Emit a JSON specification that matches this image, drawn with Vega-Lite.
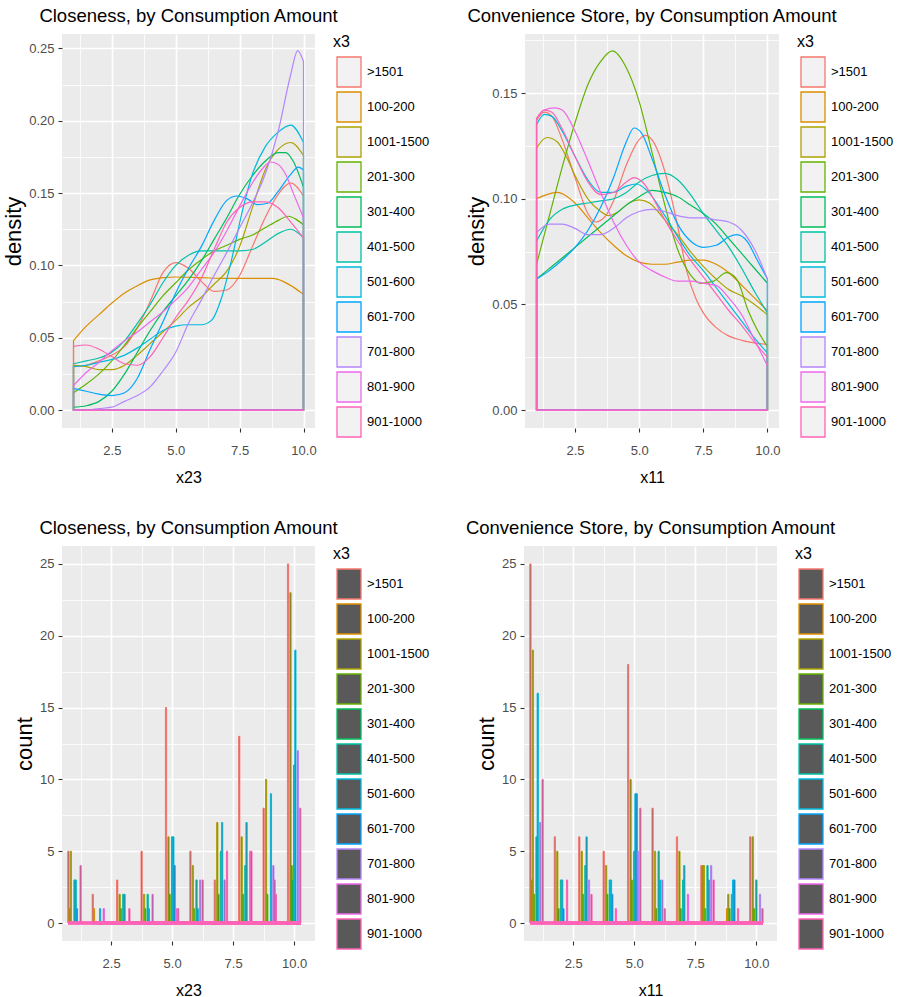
{
 "$schema": "https://vega.github.io/schema/vega-lite/v6.json",
 "background": "white",
 "padding": {"left": 2, "top": 6, "right": 0, "bottom": 0},
 "datasets": {
  "dens23": [
   {"x3":">1501","x23":1,"density":0.030},{"x3":">1501","x23":1.5,"density":0.031},{"x3":">1501","x23":2,"density":0.034},{"x3":">1501","x23":2.5,"density":0.038},{"x3":">1501","x23":3,"density":0.044},{"x3":">1501","x23":3.5,"density":0.057},{"x3":">1501","x23":4,"density":0.075},{"x3":">1501","x23":4.5,"density":0.095},{"x3":">1501","x23":5,"density":0.102},{"x3":">1501","x23":5.5,"density":0.098},{"x3":">1501","x23":6,"density":0.089},{"x3":">1501","x23":6.5,"density":0.082},{"x3":">1501","x23":7,"density":0.083},{"x3":">1501","x23":7.5,"density":0.093},{"x3":">1501","x23":8,"density":0.113},{"x3":">1501","x23":8.5,"density":0.133},{"x3":">1501","x23":9,"density":0.149},{"x3":">1501","x23":9.5,"density":0.157},{"x3":">1501","x23":10,"density":0.148},
   {"x3":"100-200","x23":1,"density":0.048},{"x3":"100-200","x23":1.5,"density":0.058},{"x3":"100-200","x23":2,"density":0.066},{"x3":"100-200","x23":2.5,"density":0.074},{"x3":"100-200","x23":3,"density":0.081},{"x3":"100-200","x23":3.5,"density":0.086},{"x3":"100-200","x23":4,"density":0.090},{"x3":"100-200","x23":4.5,"density":0.0915},{"x3":"100-200","x23":5,"density":0.092},{"x3":"100-200","x23":6,"density":0.0915},{"x3":"100-200","x23":7,"density":0.091},{"x3":"100-200","x23":8,"density":0.091},{"x3":"100-200","x23":8.8,"density":0.091},{"x3":"100-200","x23":9.2,"density":0.089},{"x3":"100-200","x23":9.6,"density":0.085},{"x3":"100-200","x23":10,"density":0.080},
   {"x3":"1001-1500","x23":1,"density":0.031},{"x3":"1001-1500","x23":1.5,"density":0.030},{"x3":"1001-1500","x23":2,"density":0.028},{"x3":"1001-1500","x23":2.5,"density":0.028},{"x3":"1001-1500","x23":3,"density":0.031},{"x3":"1001-1500","x23":3.5,"density":0.038},{"x3":"1001-1500","x23":4,"density":0.046},{"x3":"1001-1500","x23":4.5,"density":0.054},{"x3":"1001-1500","x23":5,"density":0.062},{"x3":"1001-1500","x23":5.5,"density":0.071},{"x3":"1001-1500","x23":6,"density":0.078},{"x3":"1001-1500","x23":6.5,"density":0.087},{"x3":"1001-1500","x23":7,"density":0.096},{"x3":"1001-1500","x23":7.5,"density":0.113},{"x3":"1001-1500","x23":8,"density":0.140},{"x3":"1001-1500","x23":8.5,"density":0.166},{"x3":"1001-1500","x23":9,"density":0.180},{"x3":"1001-1500","x23":9.5,"density":0.185},{"x3":"1001-1500","x23":10,"density":0.176},
   {"x3":"201-300","x23":1,"density":0.012},{"x3":"201-300","x23":1.5,"density":0.018},{"x3":"201-300","x23":2,"density":0.025},{"x3":"201-300","x23":2.5,"density":0.034},{"x3":"201-300","x23":3,"density":0.045},{"x3":"201-300","x23":3.5,"density":0.057},{"x3":"201-300","x23":4,"density":0.068},{"x3":"201-300","x23":4.5,"density":0.079},{"x3":"201-300","x23":5,"density":0.088},{"x3":"201-300","x23":5.5,"density":0.097},{"x3":"201-300","x23":6,"density":0.104},{"x3":"201-300","x23":6.5,"density":0.110},{"x3":"201-300","x23":7,"density":0.114},{"x3":"201-300","x23":7.5,"density":0.118},{"x3":"201-300","x23":8,"density":0.121},{"x3":"201-300","x23":8.5,"density":0.126},{"x3":"201-300","x23":9,"density":0.131},{"x3":"201-300","x23":9.4,"density":0.134},{"x3":"201-300","x23":9.7,"density":0.132},{"x3":"201-300","x23":10,"density":0.128},
   {"x3":"301-400","x23":1,"density":0.002},{"x3":"301-400","x23":1.5,"density":0.003},{"x3":"301-400","x23":2,"density":0.006},{"x3":"301-400","x23":2.5,"density":0.013},{"x3":"301-400","x23":3,"density":0.025},{"x3":"301-400","x23":3.5,"density":0.040},{"x3":"301-400","x23":4,"density":0.055},{"x3":"301-400","x23":4.5,"density":0.068},{"x3":"301-400","x23":5,"density":0.079},{"x3":"301-400","x23":5.5,"density":0.090},{"x3":"301-400","x23":6,"density":0.103},{"x3":"301-400","x23":6.5,"density":0.118},{"x3":"301-400","x23":7,"density":0.133},{"x3":"301-400","x23":7.5,"density":0.149},{"x3":"301-400","x23":8,"density":0.162},{"x3":"301-400","x23":8.5,"density":0.172},{"x3":"301-400","x23":9,"density":0.178},{"x3":"301-400","x23":9.3,"density":0.178},{"x3":"301-400","x23":9.6,"density":0.172},{"x3":"301-400","x23":10,"density":0.154},
   {"x3":"401-500","x23":1,"density":0.032},{"x3":"401-500","x23":1.5,"density":0.034},{"x3":"401-500","x23":2,"density":0.036},{"x3":"401-500","x23":2.5,"density":0.040},{"x3":"401-500","x23":3,"density":0.048},{"x3":"401-500","x23":3.5,"density":0.060},{"x3":"401-500","x23":4,"density":0.073},{"x3":"401-500","x23":4.5,"density":0.088},{"x3":"401-500","x23":5,"density":0.100},{"x3":"401-500","x23":5.5,"density":0.107},{"x3":"401-500","x23":6,"density":0.110},{"x3":"401-500","x23":6.5,"density":0.110},{"x3":"401-500","x23":7,"density":0.110},{"x3":"401-500","x23":7.5,"density":0.110},{"x3":"401-500","x23":8,"density":0.111},{"x3":"401-500","x23":8.5,"density":0.116},{"x3":"401-500","x23":9,"density":0.122},{"x3":"401-500","x23":9.5,"density":0.125},{"x3":"401-500","x23":10,"density":0.119},
   {"x3":"501-600","x23":1,"density":0.030},{"x3":"501-600","x23":1.5,"density":0.031},{"x3":"501-600","x23":2,"density":0.033},{"x3":"501-600","x23":2.5,"density":0.035},{"x3":"501-600","x23":3,"density":0.038},{"x3":"501-600","x23":3.5,"density":0.043},{"x3":"501-600","x23":4,"density":0.049},{"x3":"501-600","x23":4.5,"density":0.055},{"x3":"501-600","x23":5,"density":0.058},{"x3":"501-600","x23":5.5,"density":0.059},{"x3":"501-600","x23":6,"density":0.059},{"x3":"501-600","x23":6.4,"density":0.062},{"x3":"501-600","x23":6.8,"density":0.078},{"x3":"501-600","x23":7.2,"density":0.105},{"x3":"501-600","x23":7.6,"density":0.137},{"x3":"501-600","x23":8,"density":0.163},{"x3":"501-600","x23":8.5,"density":0.182},{"x3":"501-600","x23":9,"density":0.192},{"x3":"501-600","x23":9.5,"density":0.197},{"x3":"501-600","x23":10,"density":0.185},
   {"x3":"601-700","x23":1,"density":0.015},{"x3":"601-700","x23":1.5,"density":0.013},{"x3":"601-700","x23":2,"density":0.011},{"x3":"601-700","x23":2.5,"density":0.010},{"x3":"601-700","x23":3,"density":0.012},{"x3":"601-700","x23":3.5,"density":0.022},{"x3":"601-700","x23":4,"density":0.042},{"x3":"601-700","x23":4.5,"density":0.061},{"x3":"601-700","x23":5,"density":0.081},{"x3":"601-700","x23":5.5,"density":0.098},{"x3":"601-700","x23":6,"density":0.113},{"x3":"601-700","x23":6.5,"density":0.131},{"x3":"601-700","x23":7,"density":0.145},{"x3":"601-700","x23":7.4,"density":0.148},{"x3":"601-700","x23":7.8,"density":0.146},{"x3":"601-700","x23":8.2,"density":0.142},{"x3":"601-700","x23":8.6,"density":0.143},{"x3":"601-700","x23":9,"density":0.151},{"x3":"601-700","x23":9.5,"density":0.163},{"x3":"601-700","x23":9.8,"density":0.168},{"x3":"601-700","x23":10,"density":0.166},
   {"x3":"701-800","x23":1,"density":0.000},{"x3":"701-800","x23":1.5,"density":0.000},{"x3":"701-800","x23":2,"density":0.001},{"x3":"701-800","x23":2.5,"density":0.002},{"x3":"701-800","x23":3,"density":0.006},{"x3":"701-800","x23":3.5,"density":0.010},{"x3":"701-800","x23":4,"density":0.016},{"x3":"701-800","x23":4.5,"density":0.027},{"x3":"701-800","x23":5,"density":0.040},{"x3":"701-800","x23":5.5,"density":0.060},{"x3":"701-800","x23":6,"density":0.076},{"x3":"701-800","x23":6.5,"density":0.093},{"x3":"701-800","x23":7,"density":0.109},{"x3":"701-800","x23":7.5,"density":0.126},{"x3":"701-800","x23":8,"density":0.143},{"x3":"701-800","x23":8.5,"density":0.163},{"x3":"701-800","x23":9,"density":0.192},{"x3":"701-800","x23":9.5,"density":0.232},{"x3":"701-800","x23":9.77,"density":0.2485},{"x3":"701-800","x23":10,"density":0.241},
   {"x3":"801-900","x23":1,"density":0.017},{"x3":"801-900","x23":1.5,"density":0.026},{"x3":"801-900","x23":2,"density":0.033},{"x3":"801-900","x23":2.5,"density":0.041},{"x3":"801-900","x23":3,"density":0.048},{"x3":"801-900","x23":3.5,"density":0.054},{"x3":"801-900","x23":4,"density":0.061},{"x3":"801-900","x23":4.5,"density":0.068},{"x3":"801-900","x23":5,"density":0.076},{"x3":"801-900","x23":5.5,"density":0.085},{"x3":"801-900","x23":6,"density":0.097},{"x3":"801-900","x23":6.5,"density":0.109},{"x3":"801-900","x23":7,"density":0.124},{"x3":"801-900","x23":7.5,"density":0.141},{"x3":"801-900","x23":8,"density":0.157},{"x3":"801-900","x23":8.4,"density":0.167},{"x3":"801-900","x23":8.7,"density":0.1715},{"x3":"801-900","x23":9,"density":0.170},{"x3":"801-900","x23":9.3,"density":0.163},{"x3":"801-900","x23":9.6,"density":0.150},{"x3":"801-900","x23":10,"density":0.133},
   {"x3":"901-1000","x23":1,"density":0.044},{"x3":"901-1000","x23":1.5,"density":0.045},{"x3":"901-1000","x23":2,"density":0.042},{"x3":"901-1000","x23":2.5,"density":0.037},{"x3":"901-1000","x23":3,"density":0.032},{"x3":"901-1000","x23":3.5,"density":0.031},{"x3":"901-1000","x23":4,"density":0.037},{"x3":"901-1000","x23":4.5,"density":0.050},{"x3":"901-1000","x23":5,"density":0.064},{"x3":"901-1000","x23":5.5,"density":0.076},{"x3":"901-1000","x23":6,"density":0.091},{"x3":"901-1000","x23":6.5,"density":0.111},{"x3":"901-1000","x23":7,"density":0.130},{"x3":"901-1000","x23":7.5,"density":0.140},{"x3":"901-1000","x23":8,"density":0.144},{"x3":"901-1000","x23":8.5,"density":0.144},{"x3":"901-1000","x23":9,"density":0.140},{"x3":"901-1000","x23":9.5,"density":0.130},{"x3":"901-1000","x23":10,"density":0.119}
  ],
  "dens11": [
   {"x3":">1501","x11":1,"density":0.137},{"x3":">1501","x11":1.3,"density":0.141},{"x3":">1501","x11":1.6,"density":0.139},{"x3":">1501","x11":2,"density":0.128},{"x3":">1501","x11":2.5,"density":0.110},{"x3":">1501","x11":3,"density":0.093},{"x3":">1501","x11":3.3,"density":0.089},{"x3":">1501","x11":3.7,"density":0.092},{"x3":">1501","x11":4,"density":0.099},{"x3":">1501","x11":4.5,"density":0.116},{"x3":">1501","x11":5,"density":0.128},{"x3":">1501","x11":5.25,"density":0.130},{"x3":">1501","x11":5.6,"density":0.126},{"x3":">1501","x11":6,"density":0.113},{"x3":">1501","x11":6.45,"density":0.090},{"x3":">1501","x11":6.85,"density":0.066},{"x3":">1501","x11":7.2,"density":0.053},{"x3":">1501","x11":7.5,"density":0.046},{"x3":">1501","x11":8,"density":0.039},{"x3":">1501","x11":8.5,"density":0.035},{"x3":">1501","x11":9,"density":0.033},{"x3":">1501","x11":10,"density":0.031},
   {"x3":"100-200","x11":1,"density":0.100},{"x3":"100-200","x11":1.4,"density":0.102},{"x3":"100-200","x11":1.8,"density":0.103},{"x3":"100-200","x11":2.2,"density":0.101},{"x3":"100-200","x11":2.5,"density":0.098},{"x3":"100-200","x11":3,"density":0.091},{"x3":"100-200","x11":3.5,"density":0.084},{"x3":"100-200","x11":4,"density":0.078},{"x3":"100-200","x11":4.5,"density":0.073},{"x3":"100-200","x11":5,"density":0.070},{"x3":"100-200","x11":5.5,"density":0.069},{"x3":"100-200","x11":6,"density":0.069},{"x3":"100-200","x11":6.5,"density":0.070},{"x3":"100-200","x11":7,"density":0.071},{"x3":"100-200","x11":7.5,"density":0.071},{"x3":"100-200","x11":8,"density":0.069},{"x3":"100-200","x11":8.5,"density":0.065},{"x3":"100-200","x11":9,"density":0.059},{"x3":"100-200","x11":9.5,"density":0.053},{"x3":"100-200","x11":10,"density":0.047},
   {"x3":"1001-1500","x11":1,"density":0.124},{"x3":"1001-1500","x11":1.4,"density":0.129},{"x3":"1001-1500","x11":1.8,"density":0.127},{"x3":"1001-1500","x11":2.2,"density":0.119},{"x3":"1001-1500","x11":2.5,"density":0.111},{"x3":"1001-1500","x11":3,"density":0.100},{"x3":"1001-1500","x11":3.5,"density":0.094},{"x3":"1001-1500","x11":3.8,"density":0.092},{"x3":"1001-1500","x11":4.2,"density":0.094},{"x3":"1001-1500","x11":4.6,"density":0.098},{"x3":"1001-1500","x11":5,"density":0.0995},{"x3":"1001-1500","x11":5.4,"density":0.098},{"x3":"1001-1500","x11":6,"density":0.090},{"x3":"1001-1500","x11":6.5,"density":0.083},{"x3":"1001-1500","x11":7,"density":0.075},{"x3":"1001-1500","x11":7.5,"density":0.068},{"x3":"1001-1500","x11":8,"density":0.062},{"x3":"1001-1500","x11":8.5,"density":0.057},{"x3":"1001-1500","x11":9,"density":0.054},{"x3":"1001-1500","x11":9.5,"density":0.050},{"x3":"1001-1500","x11":10,"density":0.045},
   {"x3":"201-300","x11":1,"density":0.069},{"x3":"201-300","x11":1.5,"density":0.092},{"x3":"201-300","x11":2,"density":0.115},{"x3":"201-300","x11":2.5,"density":0.136},{"x3":"201-300","x11":3,"density":0.154},{"x3":"201-300","x11":3.5,"density":0.165},{"x3":"201-300","x11":3.95,"density":0.170},{"x3":"201-300","x11":4.5,"density":0.162},{"x3":"201-300","x11":5,"density":0.146},{"x3":"201-300","x11":5.5,"density":0.122},{"x3":"201-300","x11":6,"density":0.097},{"x3":"201-300","x11":6.5,"density":0.076},{"x3":"201-300","x11":7,"density":0.064},{"x3":"201-300","x11":7.4,"density":0.060},{"x3":"201-300","x11":7.9,"density":0.061},{"x3":"201-300","x11":8.4,"density":0.065},{"x3":"201-300","x11":8.8,"density":0.062},{"x3":"201-300","x11":9.25,"density":0.047},{"x3":"201-300","x11":9.6,"density":0.038},{"x3":"201-300","x11":10,"density":0.030},
   {"x3":"301-400","x11":1,"density":0.062},{"x3":"301-400","x11":1.5,"density":0.067},{"x3":"301-400","x11":2,"density":0.072},{"x3":"301-400","x11":2.5,"density":0.077},{"x3":"301-400","x11":3,"density":0.082},{"x3":"301-400","x11":3.5,"density":0.087},{"x3":"301-400","x11":4,"density":0.092},{"x3":"301-400","x11":4.5,"density":0.097},{"x3":"301-400","x11":5,"density":0.101},{"x3":"301-400","x11":5.5,"density":0.104},{"x3":"301-400","x11":6,"density":0.103},{"x3":"301-400","x11":6.5,"density":0.101},{"x3":"301-400","x11":7,"density":0.097},{"x3":"301-400","x11":7.5,"density":0.093},{"x3":"301-400","x11":8,"density":0.088},{"x3":"301-400","x11":8.5,"density":0.081},{"x3":"301-400","x11":9,"density":0.074},{"x3":"301-400","x11":9.5,"density":0.067},{"x3":"301-400","x11":10,"density":0.060},
   {"x3":"401-500","x11":1,"density":0.080},{"x3":"401-500","x11":1.5,"density":0.090},{"x3":"401-500","x11":2,"density":0.095},{"x3":"401-500","x11":2.5,"density":0.097},{"x3":"401-500","x11":3,"density":0.098},{"x3":"401-500","x11":3.5,"density":0.099},{"x3":"401-500","x11":4,"density":0.100},{"x3":"401-500","x11":4.5,"density":0.103},{"x3":"401-500","x11":5,"density":0.108},{"x3":"401-500","x11":5.5,"density":0.111},{"x3":"401-500","x11":6,"density":0.112},{"x3":"401-500","x11":6.5,"density":0.109},{"x3":"401-500","x11":7,"density":0.102},{"x3":"401-500","x11":7.5,"density":0.093},{"x3":"401-500","x11":8,"density":0.085},{"x3":"401-500","x11":8.5,"density":0.077},{"x3":"401-500","x11":9,"density":0.067},{"x3":"401-500","x11":9.5,"density":0.056},{"x3":"401-500","x11":10,"density":0.046},
   {"x3":"501-600","x11":1,"density":0.135},{"x3":"501-600","x11":1.3,"density":0.140},{"x3":"501-600","x11":1.6,"density":0.139},{"x3":"501-600","x11":2,"density":0.132},{"x3":"501-600","x11":2.5,"density":0.120},{"x3":"501-600","x11":3,"density":0.109},{"x3":"501-600","x11":3.5,"density":0.103},{"x3":"501-600","x11":4,"density":0.103},{"x3":"501-600","x11":4.5,"density":0.106},{"x3":"501-600","x11":4.9,"density":0.107},{"x3":"501-600","x11":5.3,"density":0.104},{"x3":"501-600","x11":6,"density":0.092},{"x3":"501-600","x11":6.5,"density":0.082},{"x3":"501-600","x11":7,"density":0.073},{"x3":"501-600","x11":7.5,"density":0.066},{"x3":"501-600","x11":8,"density":0.058},{"x3":"501-600","x11":8.5,"density":0.050},{"x3":"501-600","x11":9,"density":0.042},{"x3":"501-600","x11":9.5,"density":0.034},{"x3":"501-600","x11":10,"density":0.027},
   {"x3":"601-700","x11":1,"density":0.062},{"x3":"601-700","x11":1.5,"density":0.066},{"x3":"601-700","x11":2,"density":0.071},{"x3":"601-700","x11":2.5,"density":0.077},{"x3":"601-700","x11":3,"density":0.085},{"x3":"601-700","x11":3.5,"density":0.096},{"x3":"601-700","x11":4,"density":0.110},{"x3":"601-700","x11":4.5,"density":0.127},{"x3":"601-700","x11":4.8,"density":0.1335},{"x3":"601-700","x11":5.1,"density":0.131},{"x3":"601-700","x11":5.5,"density":0.119},{"x3":"601-700","x11":6,"density":0.102},{"x3":"601-700","x11":6.5,"density":0.088},{"x3":"601-700","x11":7,"density":0.080},{"x3":"601-700","x11":7.5,"density":0.077},{"x3":"601-700","x11":8,"density":0.078},{"x3":"601-700","x11":8.5,"density":0.082},{"x3":"601-700","x11":8.8,"density":0.083},{"x3":"601-700","x11":9.2,"density":0.080},{"x3":"601-700","x11":9.6,"density":0.071},{"x3":"601-700","x11":10,"density":0.062},
   {"x3":"701-800","x11":1,"density":0.084},{"x3":"701-800","x11":1.5,"density":0.088},{"x3":"701-800","x11":2,"density":0.088},{"x3":"701-800","x11":2.5,"density":0.086},{"x3":"701-800","x11":3,"density":0.083},{"x3":"701-800","x11":3.5,"density":0.083},{"x3":"701-800","x11":4,"density":0.086},{"x3":"701-800","x11":4.5,"density":0.091},{"x3":"701-800","x11":5,"density":0.094},{"x3":"701-800","x11":5.5,"density":0.095},{"x3":"701-800","x11":6,"density":0.094},{"x3":"701-800","x11":6.5,"density":0.092},{"x3":"701-800","x11":7,"density":0.091},{"x3":"701-800","x11":7.5,"density":0.091},{"x3":"701-800","x11":8,"density":0.090},{"x3":"701-800","x11":8.5,"density":0.089},{"x3":"701-800","x11":9,"density":0.085},{"x3":"701-800","x11":9.5,"density":0.076},{"x3":"701-800","x11":10,"density":0.062},
   {"x3":"801-900","x11":1,"density":0.138},{"x3":"801-900","x11":1.3,"density":0.142},{"x3":"801-900","x11":1.7,"density":0.143},{"x3":"801-900","x11":2,"density":0.142},{"x3":"801-900","x11":2.5,"density":0.132},{"x3":"801-900","x11":3,"density":0.118},{"x3":"801-900","x11":3.5,"density":0.103},{"x3":"801-900","x11":4,"density":0.089},{"x3":"801-900","x11":4.5,"density":0.078},{"x3":"801-900","x11":5,"density":0.070},{"x3":"801-900","x11":5.5,"density":0.066},{"x3":"801-900","x11":6,"density":0.063},{"x3":"801-900","x11":6.5,"density":0.061},{"x3":"801-900","x11":7,"density":0.061},{"x3":"801-900","x11":7.5,"density":0.060},{"x3":"801-900","x11":8,"density":0.059},{"x3":"801-900","x11":8.5,"density":0.053},{"x3":"801-900","x11":9,"density":0.045},{"x3":"801-900","x11":9.5,"density":0.033},{"x3":"801-900","x11":10,"density":0.021},
   {"x3":"901-1000","x11":1,"density":0.138},{"x3":"901-1000","x11":1.3,"density":0.142},{"x3":"901-1000","x11":1.6,"density":0.141},{"x3":"901-1000","x11":2,"density":0.133},{"x3":"901-1000","x11":2.5,"density":0.120},{"x3":"901-1000","x11":3,"density":0.108},{"x3":"901-1000","x11":3.5,"density":0.102},{"x3":"901-1000","x11":4,"density":0.103},{"x3":"901-1000","x11":4.5,"density":0.108},{"x3":"901-1000","x11":4.8,"density":0.110},{"x3":"901-1000","x11":5.2,"density":0.107},{"x3":"901-1000","x11":5.6,"density":0.099},{"x3":"901-1000","x11":6,"density":0.090},{"x3":"901-1000","x11":6.5,"density":0.080},{"x3":"901-1000","x11":7,"density":0.071},{"x3":"901-1000","x11":7.5,"density":0.063},{"x3":"901-1000","x11":8,"density":0.055},{"x3":"901-1000","x11":8.5,"density":0.047},{"x3":"901-1000","x11":9,"density":0.040},{"x3":"901-1000","x11":9.5,"density":0.032},{"x3":"901-1000","x11":10,"density":0.025}
  ],
  "hist23": [
   {"x3":">1501","x23":1,"count":5},{"x3":"100-200","x23":1,"count":1},{"x3":"1001-1500","x23":1,"count":5},{"x3":"401-500","x23":1,"count":3},{"x3":"501-600","x23":1,"count":3},{"x3":"601-700","x23":1,"count":1},{"x3":"901-1000","x23":1,"count":4},
   {"x3":">1501","x23":2,"count":2},{"x3":"100-200","x23":2,"count":1},{"x3":"501-600","x23":2,"count":1},{"x3":"801-900","x23":2,"count":1},
   {"x3":">1501","x23":3,"count":3},{"x3":"1001-1500","x23":3,"count":2},{"x3":"201-300","x23":3,"count":1},{"x3":"401-500","x23":3,"count":2},{"x3":"501-600","x23":3,"count":2},{"x3":"901-1000","x23":3,"count":1},
   {"x3":">1501","x23":4,"count":5},{"x3":"1001-1500","x23":4,"count":2},{"x3":"201-300","x23":4,"count":1},{"x3":"401-500","x23":4,"count":2},{"x3":"501-600","x23":4,"count":1},{"x3":"801-900","x23":4,"count":2},
   {"x3":">1501","x23":5,"count":15},{"x3":"1001-1500","x23":5,"count":6},{"x3":"201-300","x23":5,"count":2},{"x3":"401-500","x23":5,"count":6},{"x3":"501-600","x23":5,"count":6},{"x3":"601-700","x23":5,"count":4},{"x3":"801-900","x23":5,"count":1},{"x3":"901-1000","x23":5,"count":1},
   {"x3":">1501","x23":6,"count":5},{"x3":"1001-1500","x23":6,"count":4},{"x3":"201-300","x23":6,"count":1},{"x3":"401-500","x23":6,"count":3},{"x3":"501-600","x23":6,"count":1},{"x3":"701-800","x23":6,"count":3},{"x3":"901-1000","x23":6,"count":3},
   {"x3":">1501","x23":7,"count":3},{"x3":"1001-1500","x23":7,"count":7},{"x3":"201-300","x23":7,"count":2},{"x3":"401-500","x23":7,"count":5},{"x3":"501-600","x23":7,"count":7},{"x3":"701-800","x23":7,"count":3},{"x3":"901-1000","x23":7,"count":5},
   {"x3":">1501","x23":8,"count":13},{"x3":"1001-1500","x23":8,"count":6},{"x3":"201-300","x23":8,"count":2},{"x3":"401-500","x23":8,"count":4},{"x3":"501-600","x23":8,"count":7},{"x3":"801-900","x23":8,"count":5},{"x3":"901-1000","x23":8,"count":5},
   {"x3":">1501","x23":9,"count":8},{"x3":"1001-1500","x23":9,"count":10},{"x3":"201-300","x23":9,"count":2},{"x3":"501-600","x23":9,"count":9},{"x3":"701-800","x23":9,"count":4},{"x3":"801-900","x23":9,"count":3},{"x3":"901-1000","x23":9,"count":2},
   {"x3":">1501","x23":10,"count":25},{"x3":"1001-1500","x23":10,"count":23},{"x3":"201-300","x23":10,"count":4},{"x3":"301-400","x23":10,"count":3},{"x3":"401-500","x23":10,"count":11},{"x3":"501-600","x23":10,"count":19},{"x3":"701-800","x23":10,"count":12},{"x3":"901-1000","x23":10,"count":8}
  ],
  "hist11": [
   {"x3":">1501","x11":1,"count":25},{"x3":"100-200","x11":1,"count":3},{"x3":"1001-1500","x11":1,"count":19},{"x3":"201-300","x11":1,"count":2},{"x3":"401-500","x11":1,"count":6},{"x3":"501-600","x11":1,"count":16},{"x3":"701-800","x11":1,"count":7},{"x3":"901-1000","x11":1,"count":10},
   {"x3":">1501","x11":2,"count":6},{"x3":"1001-1500","x11":2,"count":5},{"x3":"201-300","x11":2,"count":1},{"x3":"401-500","x11":2,"count":3},{"x3":"501-600","x11":2,"count":3},{"x3":"601-700","x11":2,"count":1},{"x3":"901-1000","x11":2,"count":3},
   {"x3":">1501","x11":3,"count":6},{"x3":"1001-1500","x11":3,"count":5},{"x3":"201-300","x11":3,"count":2},{"x3":"401-500","x11":3,"count":4},{"x3":"501-600","x11":3,"count":6},{"x3":"701-800","x11":3,"count":3},{"x3":"901-1000","x11":3,"count":2},
   {"x3":">1501","x11":4,"count":5},{"x3":"1001-1500","x11":4,"count":4},{"x3":"201-300","x11":4,"count":2},{"x3":"401-500","x11":4,"count":3},{"x3":"501-600","x11":4,"count":3},{"x3":"601-700","x11":4,"count":2},{"x3":"901-1000","x11":4,"count":1},
   {"x3":">1501","x11":5,"count":18},{"x3":"1001-1500","x11":5,"count":10},{"x3":"201-300","x11":5,"count":3},{"x3":"401-500","x11":5,"count":5},{"x3":"501-600","x11":5,"count":9},{"x3":"601-700","x11":5,"count":9},{"x3":"701-800","x11":5,"count":5},{"x3":"901-1000","x11":5,"count":8},
   {"x3":">1501","x11":6,"count":8},{"x3":"1001-1500","x11":6,"count":5},{"x3":"201-300","x11":6,"count":1},{"x3":"401-500","x11":6,"count":5},{"x3":"501-600","x11":6,"count":3},{"x3":"701-800","x11":6,"count":3},{"x3":"901-1000","x11":6,"count":1},
   {"x3":">1501","x11":7,"count":6},{"x3":"1001-1500","x11":7,"count":5},{"x3":"201-300","x11":7,"count":1},{"x3":"401-500","x11":7,"count":3},{"x3":"501-600","x11":7,"count":4},{"x3":"801-900","x11":7,"count":2},
   {"x3":">1501","x11":8,"count":4},{"x3":"100-200","x11":8,"count":4},{"x3":"1001-1500","x11":8,"count":4},{"x3":"201-300","x11":8,"count":1},{"x3":"401-500","x11":8,"count":4},{"x3":"501-600","x11":8,"count":3},{"x3":"701-800","x11":8,"count":4},{"x3":"901-1000","x11":8,"count":3},
   {"x3":"100-200","x11":9,"count":1},{"x3":"1001-1500","x11":9,"count":2},{"x3":"201-300","x11":9,"count":1},{"x3":"401-500","x11":9,"count":2},{"x3":"501-600","x11":9,"count":3},{"x3":"601-700","x11":9,"count":3},{"x3":"901-1000","x11":9,"count":1},
   {"x3":">1501","x11":10,"count":6},{"x3":"1001-1500","x11":10,"count":6},{"x3":"201-300","x11":10,"count":1},{"x3":"401-500","x11":10,"count":3},{"x3":"701-800","x11":10,"count":2},{"x3":"901-1000","x11":10,"count":1}
  ]
 },
 "concat": [
  {
   "width": 253, "height": 394,
   "title": "Closeness, by Consumption Amount",
   "data": {"name": "dens23"},
   "mark": {"type": "area", "interpolate": "monotone", "fill": "#F2F2F2", "fillOpacity": 0, "strokeWidth": 1.2},
   "encoding": {
    "x": {"field": "x23", "type": "quantitative", "scale": {"domain": [0.55, 10.45], "nice": false, "zero": false},
          "axis": {"title": "x23", "values": [1.25, 2.5, 3.75, 5, 6.25, 7.5, 8.75, 10], "labelExpr": "datum.value % 2.5 === 0 ? format(datum.value, '.1f') : ''", "gridWidth": {"condition": {"test": "datum.value % 2.5 === 0", "value": 1.6}, "value": 0.8}, "tickOpacity": {"condition": {"test": "datum.value % 2.5 === 0", "value": 1}, "value": 0}}},
    "y": {"field": "density", "type": "quantitative", "stack": null, "scale": {"domain": [-0.0124, 0.26], "nice": false, "zero": false},
          "axis": {"title": "density", "values": [0, 0.025, 0.05, 0.075, 0.1, 0.125, 0.15, 0.175, 0.2, 0.225, 0.25], "labelExpr": "round(datum.value * 40) % 2 === 0 ? format(datum.value, '.2f') : ''", "gridWidth": {"condition": {"test": "round(datum.value * 40) % 2 === 0", "value": 1.6}, "value": 0.8}, "tickOpacity": {"condition": {"test": "round(datum.value * 40) % 2 === 0", "value": 1}, "value": 0}}},
    "stroke": {"field": "x3", "type": "nominal",
               "scale": {"domain": [">1501","100-200","1001-1500","201-300","301-400","401-500","501-600","601-700","701-800","801-900","901-1000"], "range": ["#F8766D","#DB8E00","#AEA200","#64B200","#00BD5C","#00C1A7","#00BADE","#00A6FF","#B385FF","#EF67EB","#FF63B6"]},
               "legend": {"title": "x3", "encode": {"symbols": {"update": {"fill": {"value": "#F2F2F2"}, "fillOpacity": {"value": 1}, "strokeWidth": {"value": 1.3}}}}}}
   }
  },
  {
   "width": 254, "height": 394,
   "title": "Convenience Store, by Consumption Amount",
   "data": {"name": "dens11"},
   "mark": {"type": "area", "interpolate": "monotone", "fill": "#F2F2F2", "fillOpacity": 0, "strokeWidth": 1.2},
   "encoding": {
    "x": {"field": "x11", "type": "quantitative", "scale": {"domain": [0.55, 10.45], "nice": false, "zero": false},
          "axis": {"title": "x11", "values": [1.25, 2.5, 3.75, 5, 6.25, 7.5, 8.75, 10], "labelExpr": "datum.value % 2.5 === 0 ? format(datum.value, '.1f') : ''", "gridWidth": {"condition": {"test": "datum.value % 2.5 === 0", "value": 1.6}, "value": 0.8}, "tickOpacity": {"condition": {"test": "datum.value % 2.5 === 0", "value": 1}, "value": 0}}},
    "y": {"field": "density", "type": "quantitative", "stack": null, "scale": {"domain": [-0.0085, 0.178], "nice": false, "zero": false},
          "axis": {"title": "density", "values": [0, 0.025, 0.05, 0.075, 0.1, 0.125, 0.15, 0.175], "labelExpr": "round(datum.value * 40) % 2 === 0 ? format(datum.value, '.2f') : ''", "gridWidth": {"condition": {"test": "round(datum.value * 40) % 2 === 0", "value": 1.6}, "value": 0.8}, "tickOpacity": {"condition": {"test": "round(datum.value * 40) % 2 === 0", "value": 1}, "value": 0}}},
    "stroke": {"field": "x3", "type": "nominal",
               "scale": {"domain": [">1501","100-200","1001-1500","201-300","301-400","401-500","501-600","601-700","701-800","801-900","901-1000"], "range": ["#F8766D","#DB8E00","#AEA200","#64B200","#00BD5C","#00C1A7","#00BADE","#00A6FF","#B385FF","#EF67EB","#FF63B6"]},
               "legend": {"title": "x3", "encode": {"symbols": {"update": {"fill": {"value": "#F2F2F2"}, "fillOpacity": {"value": 1}, "strokeWidth": {"value": 1.3}}}}}}
   }
  },
  {
   "width": 253, "height": 395,
   "title": "Closeness, by Consumption Amount",
   "data": {"name": "hist23"},
   "encoding": {
    "x": {"field": "x23", "type": "quantitative", "scale": {"domain": [0.693, 10.65], "nice": false, "zero": false},
          "axis": {"title": "x23", "values": [1.25, 2.5, 3.75, 5, 6.25, 7.5, 8.75, 10], "labelExpr": "datum.value % 2.5 === 0 ? format(datum.value, '.1f') : ''", "gridWidth": {"condition": {"test": "datum.value % 2.5 === 0", "value": 1.6}, "value": 0.8}, "tickOpacity": {"condition": {"test": "datum.value % 2.5 === 0", "value": 1}, "value": 0}}},
    "y": {"field": "count", "type": "quantitative", "scale": {"domain": [-1.25, 26.25], "nice": false, "zero": false},
          "axis": {"title": "count", "values": [0, 2.5, 5, 7.5, 10, 12.5, 15, 17.5, 20, 22.5, 25], "labelExpr": "datum.value % 5 === 0 ? format(datum.value, 'd') : ''", "gridWidth": {"condition": {"test": "datum.value % 5 === 0", "value": 1.6}, "value": 0.8}, "tickOpacity": {"condition": {"test": "datum.value % 5 === 0", "value": 1}, "value": 0}}},
    "stroke": {"field": "x3", "type": "nominal",
               "scale": {"domain": [">1501","100-200","1001-1500","201-300","301-400","401-500","501-600","601-700","701-800","801-900","901-1000"], "range": ["#F8766D","#DB8E00","#AEA200","#64B200","#00BD5C","#00C1A7","#00BADE","#00A6FF","#B385FF","#EF67EB","#FF63B6"]},
               "legend": {"title": "x3", "encode": {"symbols": {"update": {"fill": {"value": "#595959"}, "fillOpacity": {"value": 1}, "strokeWidth": {"value": 1.3}}}}}}
   },
   "layer": [
    {"transform": [{"filter": "datum.x3 === '>1501'"}], "mark": {"type": "bar", "orient": "vertical", "fill": "#595959", "strokeWidth": 1, "width": 1.2, "xOffset": -6.1}},
    {"transform": [{"filter": "datum.x3 === '100-200'"}], "mark": {"type": "bar", "orient": "vertical", "fill": "#595959", "strokeWidth": 1, "width": 1.2, "xOffset": -4.88}},
    {"transform": [{"filter": "datum.x3 === '1001-1500'"}], "mark": {"type": "bar", "orient": "vertical", "fill": "#595959", "strokeWidth": 1, "width": 1.2, "xOffset": -3.66}},
    {"transform": [{"filter": "datum.x3 === '201-300'"}], "mark": {"type": "bar", "orient": "vertical", "fill": "#595959", "strokeWidth": 1, "width": 1.2, "xOffset": -2.44}},
    {"transform": [{"filter": "datum.x3 === '301-400'"}], "mark": {"type": "bar", "orient": "vertical", "fill": "#595959", "strokeWidth": 1, "width": 1.2, "xOffset": -1.22}},
    {"transform": [{"filter": "datum.x3 === '401-500'"}], "mark": {"type": "bar", "orient": "vertical", "fill": "#595959", "strokeWidth": 1, "width": 1.2, "xOffset": 0}},
    {"transform": [{"filter": "datum.x3 === '501-600'"}], "mark": {"type": "bar", "orient": "vertical", "fill": "#595959", "strokeWidth": 1, "width": 1.2, "xOffset": 1.22}},
    {"transform": [{"filter": "datum.x3 === '601-700'"}], "mark": {"type": "bar", "orient": "vertical", "fill": "#595959", "strokeWidth": 1, "width": 1.2, "xOffset": 2.44}},
    {"transform": [{"filter": "datum.x3 === '701-800'"}], "mark": {"type": "bar", "orient": "vertical", "fill": "#595959", "strokeWidth": 1, "width": 1.2, "xOffset": 3.66}},
    {"transform": [{"filter": "datum.x3 === '801-900'"}], "mark": {"type": "bar", "orient": "vertical", "fill": "#595959", "strokeWidth": 1, "width": 1.2, "xOffset": 4.88}},
    {"transform": [{"filter": "datum.x3 === '901-1000'"}], "mark": {"type": "bar", "orient": "vertical", "fill": "#595959", "strokeWidth": 1, "width": 1.2, "xOffset": 6.1}},
    {"mark": {"type": "rule", "strokeWidth": 2.5, "xOffset": -6.4, "x2Offset": 6.4},
     "encoding": {"x2": {"datum": 10}, "y": {"datum": 0}, "stroke": {"value": "#FF63B6"}}}
   ]
  },
  {
   "width": 253, "height": 395,
   "title": "Convenience Store, by Consumption Amount",
   "data": {"name": "hist11"},
   "encoding": {
    "x": {"field": "x11", "type": "quantitative", "scale": {"domain": [0.692, 10.64], "nice": false, "zero": false},
          "axis": {"title": "x11", "values": [1.25, 2.5, 3.75, 5, 6.25, 7.5, 8.75, 10], "labelExpr": "datum.value % 2.5 === 0 ? format(datum.value, '.1f') : ''", "gridWidth": {"condition": {"test": "datum.value % 2.5 === 0", "value": 1.6}, "value": 0.8}, "tickOpacity": {"condition": {"test": "datum.value % 2.5 === 0", "value": 1}, "value": 0}}},
    "y": {"field": "count", "type": "quantitative", "scale": {"domain": [-1.25, 26.25], "nice": false, "zero": false},
          "axis": {"title": "count", "values": [0, 2.5, 5, 7.5, 10, 12.5, 15, 17.5, 20, 22.5, 25], "labelExpr": "datum.value % 5 === 0 ? format(datum.value, 'd') : ''", "gridWidth": {"condition": {"test": "datum.value % 5 === 0", "value": 1.6}, "value": 0.8}, "tickOpacity": {"condition": {"test": "datum.value % 5 === 0", "value": 1}, "value": 0}}},
    "stroke": {"field": "x3", "type": "nominal",
               "scale": {"domain": [">1501","100-200","1001-1500","201-300","301-400","401-500","501-600","601-700","701-800","801-900","901-1000"], "range": ["#F8766D","#DB8E00","#AEA200","#64B200","#00BD5C","#00C1A7","#00BADE","#00A6FF","#B385FF","#EF67EB","#FF63B6"]},
               "legend": {"title": "x3", "encode": {"symbols": {"update": {"fill": {"value": "#595959"}, "fillOpacity": {"value": 1}, "strokeWidth": {"value": 1.3}}}}}}
   },
   "layer": [
    {"transform": [{"filter": "datum.x3 === '>1501'"}], "mark": {"type": "bar", "orient": "vertical", "fill": "#595959", "strokeWidth": 1, "width": 1.2, "xOffset": -6.1}},
    {"transform": [{"filter": "datum.x3 === '100-200'"}], "mark": {"type": "bar", "orient": "vertical", "fill": "#595959", "strokeWidth": 1, "width": 1.2, "xOffset": -4.88}},
    {"transform": [{"filter": "datum.x3 === '1001-1500'"}], "mark": {"type": "bar", "orient": "vertical", "fill": "#595959", "strokeWidth": 1, "width": 1.2, "xOffset": -3.66}},
    {"transform": [{"filter": "datum.x3 === '201-300'"}], "mark": {"type": "bar", "orient": "vertical", "fill": "#595959", "strokeWidth": 1, "width": 1.2, "xOffset": -2.44}},
    {"transform": [{"filter": "datum.x3 === '301-400'"}], "mark": {"type": "bar", "orient": "vertical", "fill": "#595959", "strokeWidth": 1, "width": 1.2, "xOffset": -1.22}},
    {"transform": [{"filter": "datum.x3 === '401-500'"}], "mark": {"type": "bar", "orient": "vertical", "fill": "#595959", "strokeWidth": 1, "width": 1.2, "xOffset": 0}},
    {"transform": [{"filter": "datum.x3 === '501-600'"}], "mark": {"type": "bar", "orient": "vertical", "fill": "#595959", "strokeWidth": 1, "width": 1.2, "xOffset": 1.22}},
    {"transform": [{"filter": "datum.x3 === '601-700'"}], "mark": {"type": "bar", "orient": "vertical", "fill": "#595959", "strokeWidth": 1, "width": 1.2, "xOffset": 2.44}},
    {"transform": [{"filter": "datum.x3 === '701-800'"}], "mark": {"type": "bar", "orient": "vertical", "fill": "#595959", "strokeWidth": 1, "width": 1.2, "xOffset": 3.66}},
    {"transform": [{"filter": "datum.x3 === '801-900'"}], "mark": {"type": "bar", "orient": "vertical", "fill": "#595959", "strokeWidth": 1, "width": 1.2, "xOffset": 4.88}},
    {"transform": [{"filter": "datum.x3 === '901-1000'"}], "mark": {"type": "bar", "orient": "vertical", "fill": "#595959", "strokeWidth": 1, "width": 1.2, "xOffset": 6.1}},
    {"mark": {"type": "rule", "strokeWidth": 2.5, "xOffset": -6.4, "x2Offset": 6.4},
     "encoding": {"x2": {"datum": 10}, "y": {"datum": 0}, "stroke": {"value": "#FF63B6"}}}
   ]
  }
 ],
 "columns": 2,
 "align": "none",
 "spacing": {"row": 33, "column": 35},
 "resolve": {"scale": {"stroke": "independent"}},
 "config": {
  "font": "Liberation Sans, Arial, sans-serif",
  "view": {"fill": "#EBEBEB", "stroke": null},
  "axis": {"domain": false, "grid": true, "gridColor": "#FFFFFF", "tickColor": "#333333", "tickSize": 4, "tickWidth": 1.1, "labelColor": "#4D4D4D", "labelFont": "Liberation Sans, Arial, sans-serif", "labelFontSize": 13, "labelOverlap": false, "labelFlush": false, "titleFont": "Liberation Sans, Arial, sans-serif", "titleFontSize": 16, "titleFontWeight": "normal", "titleColor": "#000000"},
  "axisX": {"labelPadding": 12, "titlePadding": 12},
  "axisY": {"labelPadding": 4, "titlePadding": 3, "titleFontSize": 22},
  "legend": {"orient": "right", "offset": 18, "padding": 0, "titleFont": "Liberation Sans, Arial, sans-serif", "titleFontSize": 16, "titleFontWeight": "normal", "titleColor": "#000000", "titlePadding": 6, "labelFont": "Liberation Sans, Arial, sans-serif", "labelFontSize": 13, "labelColor": "#000000", "labelOffset": 2, "symbolType": "M-0.8,-1H0.8V1H-0.8Z", "symbolSize": 900, "symbolStrokeWidth": 1.3, "rowPadding": -1},
  "title": {"font": "Liberation Sans, Arial, sans-serif", "fontSize": 18.5, "fontWeight": "normal", "color": "#000000", "anchor": "middle", "frame": "group", "offset": 9}
 }
}
